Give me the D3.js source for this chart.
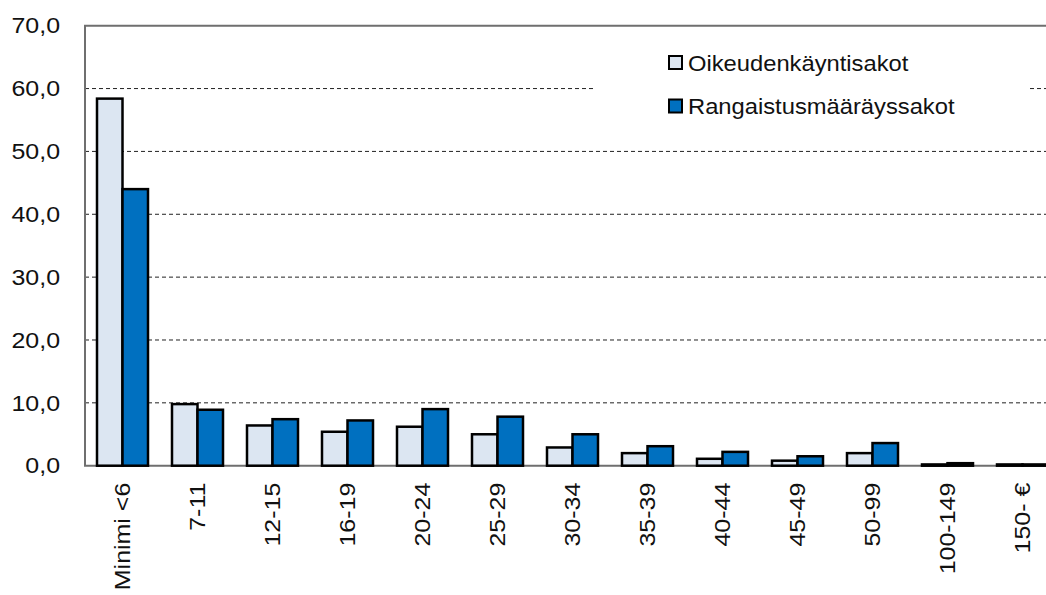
<!DOCTYPE html>
<html>
<head>
<meta charset="utf-8">
<script src="https://cdn.jsdelivr.net/npm/d3@7"></script>
<style>
	body { margin: 0; background: #fff; }
	svg { font-family: "Liberation Sans", Arial, sans-serif; }
</style>
</head>
<body>
<svg id="chart" width="1046" height="595"></svg>
<script>
// categories (fine size in euros) and the two series
const categories = ["Minimi <6", "7-11", "12-15", "16-19", "20-24", "25-29", "30-34", "35-39", "40-44", "45-49", "50-99", "100-149", "150- €"];
const seriesNames = ["Oikeudenkäyntisakot", "Rangaistusmääräyssakot"];
const oikeudenkayntisakot = [58.4, 9.8, 6.4, 5.4, 6.2, 5.0, 2.9, 2.0, 1.1, 0.8, 2.0, 0.2, 0.2];
const rangaistusmaarayssakot = [44.0, 8.9, 7.4, 7.2, 9.0, 7.8, 5.0, 3.1, 2.2, 1.5, 3.6, 0.4, 0.2];
const yTicks = [0, 10, 20, 30, 40, 50, 60, 70];

const colors = ["#dce6f2", "#0070c0"];
const svg = d3.select("svg#chart");

const bounds = { minX: 85, maxX: 1060, minY: 25.7, maxY: 465.7 };

const scaleX = d3.scaleBand()
	.domain(categories)
	.range([bounds.minX, bounds.maxX])
	.paddingInner(0.32)
	.paddingOuter(0.16);

const scaleSeries = d3.scaleBand()
	.domain(seriesNames)
	.range([0, scaleX.bandwidth()]);

const scaleY = d3.scaleLinear()
	.domain([0, 70])
	.range([bounds.maxY, bounds.minY]);

const fmt = v => d3.format(".1f")(v).replace(".", ",");

// gridlines (dashed)
svg.append("g")
	.selectAll("line")
	.data(yTicks.filter(t => t > 0 && t < 70))
	.join("line")
	.attr("x1", bounds.minX)
	.attr("x2", bounds.maxX)
	.attr("y1", d => scaleY(d))
	.attr("y2", d => scaleY(d))
	.attr("stroke", "#222")
	.attr("stroke-width", 1)
	.attr("stroke-dasharray", "4,3");

// plot frame: top, left, bottom in grey
svg.append("path")
	.attr("d", `M${bounds.maxX},${bounds.minY}H${bounds.minX}V${bounds.maxY}H${bounds.maxX}`)
	.attr("fill", "none")
	.attr("stroke", "#6f6f6f")
	.attr("stroke-width", 2);

// y axis labels
const yAxis = d3.axisLeft(scaleY).tickValues(yTicks).tickFormat(fmt).tickSize(0).tickPadding(22.5);
const yG = svg.append("g")
	.attr("transform", `translate(${bounds.minX} 0)`)
	.call(yAxis);
yG.select(".domain").remove();
yG.selectAll("text")
	.attr("font-size", 22.5)
	.attr("font-family", "Liberation Sans, Arial, sans-serif")
	.attr("fill", "#111")
	.attr("transform", "scale(1.11 1)");

// bars
const rows = categories.map((c, i) => ({
	cat: c,
	values: [oikeudenkayntisakot[i], rangaistusmaarayssakot[i]]
}));

svg.append("g")
	.selectAll("g")
	.data(rows)
	.join("g")
	.attr("transform", d => `translate(${scaleX(d.cat)} 0)`)
	.selectAll("rect")
	.data(d => d.values.map((v, j) => ({ name: seriesNames[j], v: v, j: j })))
	.join("rect")
	.attr("x", d => scaleSeries(d.name))
	.attr("width", scaleSeries.bandwidth())
	.attr("y", d => scaleY(d.v))
	.attr("height", d => scaleY(0) - scaleY(d.v))
	.attr("fill", d => colors[d.j])
	.attr("stroke", "#000")
	.attr("stroke-width", 2.5);

// x axis labels, rotated
const xAxis = d3.axisBottom(scaleX).tickSize(0).tickPadding(0);
const xG = svg.append("g")
	.attr("transform", `translate(0 ${bounds.maxY})`)
	.call(xAxis);
xG.select(".domain").remove();
xG.selectAll("text")
	.attr("font-size", 22.5)
	.attr("font-family", "Liberation Sans, Arial, sans-serif")
	.attr("fill", "#111")
	.attr("text-anchor", "end")
	.attr("dy", "0.35em")
	.attr("transform", "translate(0 17) rotate(-90) scale(1.11 1)")
	.attr("x", 0)
	.attr("y", 0);

// legend box covering the gridline
const legend = svg.append("g").attr("transform", "translate(593 40)");
legend.append("rect")
	.attr("x", 0)
	.attr("y", 0)
	.attr("width", 436)
	.attr("height", 90)
	.attr("fill", "#fff");

const items = legend.selectAll("g.item")
	.data(seriesNames)
	.join("g")
	.attr("class", "item")
	.attr("transform", (d, i) => `translate(76 ${23 + i * 43.5})`);
items.append("rect")
	.attr("x", 0)
	.attr("y", -7)
	.attr("width", 13)
	.attr("height", 13)
	.attr("fill", (d, i) => colors[i])
	.attr("stroke", "#000")
	.attr("stroke-width", 2);
items.append("text")
	.attr("x", 0)
	.attr("y", 0)
	.attr("dy", "0.35em")
	.attr("font-size", 22)
	.attr("fill", "#111")
	.attr("transform", "translate(19 0) scale(1.08 1)")
	.text(d => d);
</script>
</body>
</html>
